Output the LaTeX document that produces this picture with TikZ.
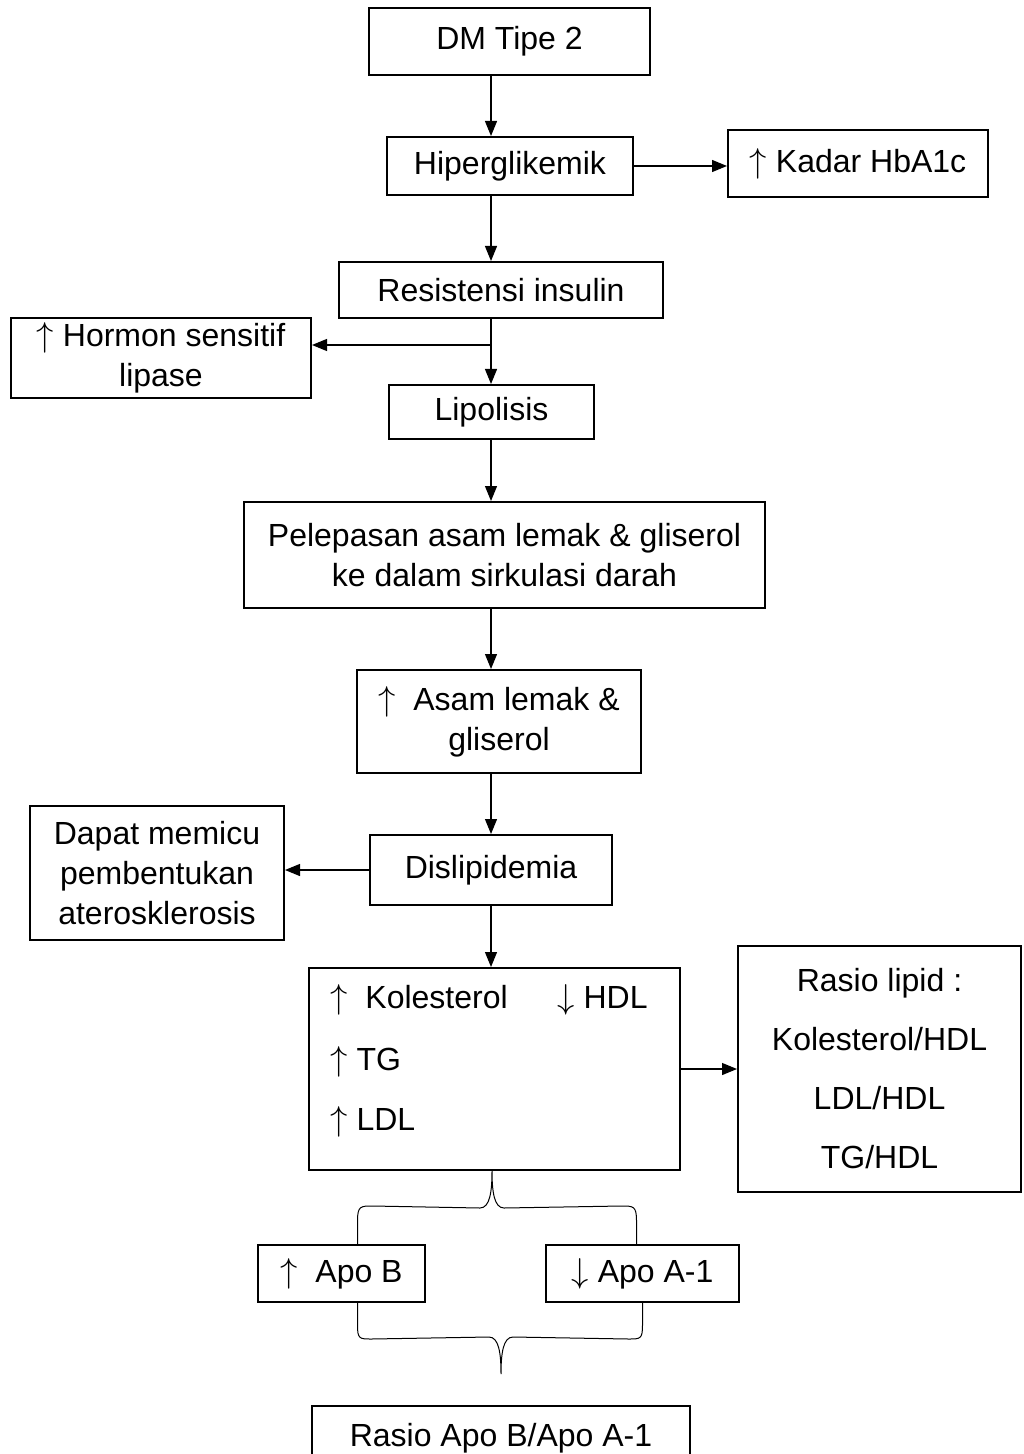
\documentclass[tikz,border=0pt]{standalone}
\usepackage{fontspec}
\setmainfont{Liberation Sans}
\usetikzlibrary{arrows.meta, calc}
\newcommand{\naik}{$\uparrow$}
\newcommand{\turun}{$\downarrow$}
\tikzset{
	every node/.style={font=\fontsize{16}{20}\selectfont},
	box/.style={draw, line width=1pt, align=center, inner sep=0pt},
	txt/.style={anchor=west, inner sep=0pt},
	arr/.style={draw, line width=0.6pt, -{Triangle[length=7.5pt,width=6pt]}},
	brc/.style={draw, line width=0.5pt}}

\begin{document}
\begin{tikzpicture}[x=0.5pt, y=-0.5pt]
    \useasboundingbox (0,0) rectangle (1023,1454);
    \coordinate (spine) at (491,0);
    % main chain
    \node[box, minimum width=140.5pt, minimum height=33.5pt] (dm) at (509.5,41.5) {DM Tipe 2};
    \node[box, minimum width=123pt, minimum height=29pt] (hiper) at (510,166) {Hiperglikemik};
    \node[box, minimum width=130pt, minimum height=33.5pt] (hba) at (858,163.5) {\naik\ Kadar HbA1c};
    \node[box, minimum width=162pt, minimum height=28pt] (resist) at (501,290) {Resistensi insulin};
    \node[box, minimum width=150pt, minimum height=40pt] (hormon) at (161,358) {\naik\ Hormon sensitif\\lipase};
    \node[box, minimum width=102.5pt, minimum height=27pt] (lipo) at (491.5,412) {Lipolisis};
    \node[box, minimum width=260.5pt, minimum height=53pt] (lepas) at (504.5,555) {Pelepasan asam lemak \& gliserol\\ke dalam sirkulasi darah};
    \node[box, minimum width=142pt, minimum height=51.5pt] (asam) at (499,721.5) {\naik~\ Asam lemak \&\\gliserol};
    \node[box, minimum width=121pt, minimum height=35pt] (disli) at (491,870) {Dislipidemia};
    \node[box, minimum width=127pt, minimum height=67pt] (dapat) at (157,873) {Dapat memicu\\pembentukan\\aterosklerosis};
    % lipid profile
    \node[box, minimum width=185.5pt, minimum height=101pt] (lipid) at (494.5,1069) {};
    \node[txt] (kol) at (330,1000) {\naik~\ Kolesterol};
    \node[txt] (hdl) at (557,1000) {\turun\ HDL};
    \node[txt] (tg) at (330,1062) {\naik\ TG};
    \node[txt] (ldl) at (330,1122) {\naik\ LDL};
    \node[box, minimum width=141.5pt, minimum height=123pt, font=\fontsize{16}{29.5}\selectfont] (rlipid) at (879.5,1069) {Rasio lipid :\\Kolesterol/HDL\\LDL/HDL\\TG/HDL};
    % apolipoprotein
    \node[box, minimum width=83.5pt, minimum height=28.5pt] (apob) at (341.5,1273.5) {\naik~\ Apo B};
    \node[box, minimum width=96.5pt, minimum height=28.5pt] (apoa) at (642.5,1273.5) {\turun\ Apo A-1};
    \node[box, minimum width=189pt, minimum height=32pt] (rapo) at (501,1438) {Rasio Apo B/Apo A-1};

    \draw[arr] (dm.south -| spine) -- (hiper.north -| spine);
    \draw[arr] (hiper.east) -- (hiper.east -| hba.west);
    \draw[arr] (hiper.south -| spine) -- (resist.north -| spine);
    \draw[arr] (resist.south -| spine) -- (lipo.north -| spine);
    \coordinate (branch) at (491,345);
    \draw[arr] (branch) -- (branch -| hormon.east);
    \draw[arr] (lipo.south -| spine) -- (lepas.north -| spine);
    \draw[arr] (lepas.south -| spine) -- (asam.north -| spine);
    \draw[arr] (asam.south -| spine) -- (disli.north -| spine);
    \draw[arr] (disli.west) -- (disli.west -| dapat.east);
    \draw[arr] (disli.south -| spine) -- (lipid.north -| spine);
    \draw[arr] (lipid.east) -- (lipid.east -| rlipid.west);
    % braces
    \coordinate (b1l) at ([xshift=8pt]apob.north);
    \coordinate (b1r) at ([xshift=-3pt]apoa.north);
    \coordinate (b1t) at ([xshift=-1.25pt]lipid.south);
    \draw[brc] (b1l) -- ++(0,-23) .. controls +(0,-15) and +(-12,0) .. ++(15,-15)
        -- ($(b1t)+(-12,37)$) .. controls +(10,0) and +(0,20) .. (b1t)
        .. controls +(0,20) and +(-10,0) .. ($(b1t)+(12,37)$)
        -- ($(b1r)+(-15,-38)$) .. controls +(12,0) and +(0,-15) .. ($(b1r)+(0,-23)$) -- (b1r);
    \coordinate (b2l) at ([xshift=8pt]apob.south);
    \coordinate (b2r) at (apoa.south);
    \coordinate (b2t) at ([yshift=15.5pt]rapo.north);
    \draw[brc] (b2l) -- ++(0,22) .. controls +(0,14) and +(-12,0) .. ++(14,14)
        -- ($(b2t)+(-12,-37)$) .. controls +(10,0) and +(0,-20) .. (b2t)
        .. controls +(0,-20) and +(-10,0) .. ($(b2t)+(12,-37)$)
        -- ($(b2r)+(-14,36)$) .. controls +(12,0) and +(0,14) .. ($(b2r)+(0,22)$) -- (b2r);
\end{tikzpicture}
\end{document}
